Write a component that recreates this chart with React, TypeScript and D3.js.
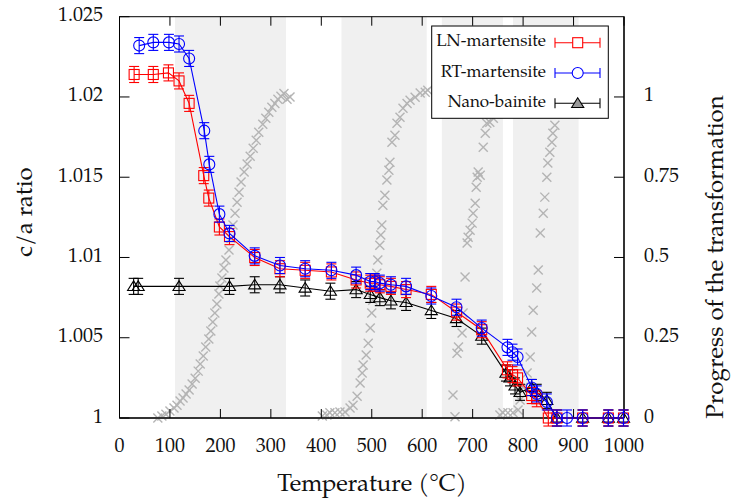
import React from "react";
import * as d3 from "d3";

// ---------- data ----------
const lnTemp = [29, 67, 97, 118, 138, 167, 177, 198, 218, 268, 318, 368, 420, 469, 497, 506, 516, 538, 568, 618, 668, 718, 769, 779, 789, 817, 827, 850, 867, 918, 969, 999];
const lnRatio = [1.0214, 1.0214, 1.0215, 1.021, 1.0196, 1.0151, 1.0137, 1.0119, 1.0113, 1.01, 1.0093, 1.0092, 1.0091, 1.0086, 1.0084, 1.0084, 1.0083, 1.0082, 1.008, 1.0077, 1.0066, 1.0055, 1.003, 1.0027, 1.0025, 1.0014, 1.0012, 1.0, 1.0, 1.0, 1.0, 1.0];

const rtTemp = [39, 67, 98, 118, 138, 168, 178, 198, 218, 268, 318, 368, 420, 469, 497, 506, 516, 538, 568, 618, 668, 718, 769, 779, 789, 817, 827, 847, 867, 887, 918, 969, 999];
const rtRatio = [1.0232, 1.0234, 1.0234, 1.0233, 1.0224, 1.0179, 1.0158, 1.0127, 1.0115, 1.0101, 1.0095, 1.0093, 1.0092, 1.0089, 1.0085, 1.0085, 1.0084, 1.0083, 1.0082, 1.0076, 1.0069, 1.0056, 1.0044, 1.0041, 1.0038, 1.0019, 1.0015, 1.001, 1.0, 1.0, 1.0, 1.0, 1.0];

const nbTemp = [28, 37, 118, 218, 268, 318, 368, 418, 469, 497, 516, 538, 568, 618, 668, 718, 766, 774, 784, 794, 817, 827, 847, 867, 918, 969, 999];
const nbRatio = [1.0082, 1.0082, 1.0082, 1.0082, 1.0083, 1.0083, 1.0081, 1.0079, 1.008, 1.0077, 1.0075, 1.0073, 1.0072, 1.0067, 1.0062, 1.0051, 1.0028, 1.0025, 1.002, 1.0016, 1.0019, 1.0016, 1.0011, 1.0, 1.0, 1.0, 1.0];

const ratioError = 0.0005;

// progress of the transformation (grey crosses, right axis)
const progTemp = [
  76, 84, 92, 100, 108, 114, 120, 126, 132, 138, 144, 150, 156, 160, 166, 171, 177, 181, 185, 189, 193, 197, 199, 203, 207, 211, 217, 221, 225, 229, 233, 237, 241, 247, 253, 259, 265, 271, 276, 284, 290, 296, 302, 308, 314, 320, 326, 332, 338,
  402, 411, 417, 427, 437, 447, 457, 463, 471, 477, 481, 483, 489, 493, 497, 500, 502, 506, 510, 512, 516, 518, 520, 522, 526, 530, 534, 536, 540, 546, 550, 556, 562, 570, 576, 586, 596, 606, 611,
  665, 661, 669, 672, 679, 681, 685, 689, 691, 695, 699, 701, 705, 707, 709, 711, 715, 721, 725, 728, 734, 741,
  754, 760, 770, 780, 790, 794, 800, 808, 814, 817, 820, 827, 830, 834, 840, 843, 847, 849, 853, 857, 859, 863, 865, 867,
];
const progValue = [
  0.0, 0.006, 0.012, 0.022, 0.031, 0.04, 0.053, 0.062, 0.075, 0.087, 0.106, 0.124, 0.146, 0.168, 0.193, 0.221, 0.246, 0.271, 0.299, 0.327, 0.355, 0.386, 0.411, 0.436, 0.467, 0.492, 0.523, 0.56, 0.601, 0.638, 0.672, 0.703, 0.735, 0.766, 0.791, 0.815, 0.84, 0.865, 0.89, 0.915, 0.934, 0.952, 0.968, 0.98, 0.993, 1.002, 1.011, 0.993, 1.0,
  0.006, 0.009, 0.016, 0.016, 0.019, 0.019, 0.031, 0.04, 0.068, 0.109, 0.14, 0.165, 0.196, 0.233, 0.28, 0.327, 0.367, 0.408, 0.451, 0.492, 0.538, 0.57, 0.601, 0.663, 0.694, 0.741, 0.772, 0.797, 0.859, 0.881, 0.918, 0.937, 0.965, 0.98, 0.99, 0.999, 1.012, 1.015, 1.021,
  0.004, 0.072, 0.202, 0.221, 0.265, 0.327, 0.439, 0.545, 0.563, 0.585, 0.607, 0.638, 0.669, 0.719, 0.75, 0.766, 0.756, 0.843, 0.887, 0.918, 0.921, 0.934,
  0.009, 0.016, 0.016, 0.016, 0.025, 0.056, 0.096, 0.14, 0.19, 0.268, 0.336, 0.405, 0.461, 0.576, 0.638, 0.688, 0.75, 0.794, 0.828, 0.859, 0.887, 0.912, 0.959, 0.98,
];

const bandStart = [110, 440, 639, 780];
const bandEnd = [330, 609, 760, 910];

const xTicks = [0, 100, 200, 300, 400, 500, 600, 700, 800, 900, 1000];
const yLeftTicks = [1, 1.005, 1.01, 1.015, 1.02, 1.025];
const yLeftLabels = ["1", "1.005", "1.01", "1.015", "1.02", "1.025"];
const yRightTicks = [0, 0.25, 0.5, 0.75, 1];
const yRightLabels = ["0", "0.25", "0.5", "0.75", "1"];

const seriesNames = ["LN-martensite", "RT-martensite", "Nano-bainite"];

// ---------- layout ----------
const W = 731;
const H = 501;
const L = 119.5;
const R = 624;
const T = 16.7;
const B = 418;
const FONT = `"TeX Gyre Pagella", "Liberation Serif", serif`;

const x = d3.scaleLinear().domain([0, 1000]).range([L, R]);
const yL = d3.scaleLinear().domain([1, 1.025]).range([B, T]);
const yR = d3.scaleLinear().domain([0, 1.25]).range([B, T]);

type Pt = { t: number; v: number };
const zip = (a: number[], b: number[]): Pt[] => a.map((t, i) => ({ t, v: b[i] }));

const lnData = zip(lnTemp, lnRatio);
const rtData = zip(rtTemp, rtRatio);
const nbData = zip(nbTemp, nbRatio);
const progData = zip(progTemp, progValue);

const line = d3
  .line<Pt>()
  .x((d) => x(d.t))
  .y((d) => yL(d.v));

const triPath = (cx: number, cy: number, s: number) =>
  `M${cx},${cy - s}L${cx + s * 1.1},${cy + s * 0.75}L${cx - s * 1.1},${cy + s * 0.75}Z`;

function Marker({ kind, cx, cy, color }: { kind: string; cx: number; cy: number; color: string }) {
  if (kind === "square")
    return <rect x={cx - 5} y={cy - 5} width={10} height={10} fill="none" stroke={color} strokeWidth={1.1} />;
  if (kind === "circle") return <circle cx={cx} cy={cy} r={5.5} fill="none" stroke={color} strokeWidth={1.1} />;
  return <path d={triPath(cx, cy, 5.5)} fill="none" stroke={color} strokeWidth={1.1} />;
}

function Series({ data, color, kind }: { data: Pt[]; color: string; kind: string }) {
  return (
    <g>
      <path d={line(data) || ""} fill="none" stroke={color} strokeWidth={1.1} />
      {data.map((d, i) => {
        const cx = x(d.t);
        const y1 = yL(d.v + ratioError);
        const y2 = yL(d.v - ratioError);
        return (
          <g key={i}>
            <line x1={cx} x2={cx} y1={y1} y2={y2} stroke={color} strokeWidth={1.1} />
            <line x1={cx - 5} x2={cx + 5} y1={y1} y2={y1} stroke={color} strokeWidth={1.1} />
            <line x1={cx - 5} x2={cx + 5} y1={y2} y2={y2} stroke={color} strokeWidth={1.1} />
            <Marker kind={kind} cx={cx} cy={yL(d.v)} color={color} />
          </g>
        );
      })}
    </g>
  );
}

export default function App() {
  const legendX = 431.7;
  const legendY = 26;
  const legendRows = [
    { name: seriesNames[0], color: "#ff0000", kind: "square", fill: "none" },
    { name: seriesNames[1], color: "#0000ff", kind: "circle", fill: "none" },
    { name: seriesNames[2], color: "#000000", kind: "triangle", fill: "#999" },
  ];
  const txt = { fontFamily: FONT };
  return (
    <svg width={W} height={H} style={{ position: "absolute", left: 0, top: 0, background: "#fff" }}>
      <rect x={0} y={0} width={W} height={H} fill="#fff" />
      {/* bands */}
      {bandStart.map((s, i) => (
        <rect key={i} x={x(s)} y={T} width={x(bandEnd[i]) - x(s)} height={B - T} fill="#f0f0f0" />
      ))}
      {/* progress crosses */}
      <g stroke="#b4b4b4" strokeWidth={1.4}>
        {progData.map((d, i) => {
          const cx = x(d.t);
          const cy = yR(d.v);
          const s = 4.5;
          return (
            <g key={i}>
              <line x1={cx - s} y1={cy - s} x2={cx + s} y2={cy + s} />
              <line x1={cx - s} y1={cy + s} x2={cx + s} y2={cy - s} />
            </g>
          );
        })}
      </g>
      {/* frame */}
      <rect x={L} y={T} width={R - L} height={B - T} fill="none" stroke="#000" strokeWidth={1} />
      <line x1={L} x2={R} y1={B} y2={B} stroke="#333" strokeWidth={2} />
      <line x1={R} x2={R} y1={T} y2={B} stroke="#333" strokeWidth={2} />
      {/* x ticks */}
      {xTicks.map((t) => (
        <g key={t}>
          <line x1={x(t)} x2={x(t)} y1={B} y2={B - 9} stroke="#000" />
          <line x1={x(t)} x2={x(t)} y1={T} y2={T + 9} stroke="#000" />
          <text x={x(t)} y={447} textAnchor="middle" dominantBaseline="central" fontSize={20} fill="#111" style={txt}>
            {t}
          </text>
        </g>
      ))}
      {/* left ticks */}
      {yLeftTicks.map((t, i) => (
        <g key={t}>
          <line x1={L} x2={L + 10} y1={yL(t)} y2={yL(t)} stroke="#000" />
          <text x={103} y={yL(t)} textAnchor="end" dominantBaseline="central" fontSize={20} fill="#111" style={txt}>
            {yLeftLabels[i]}
          </text>
        </g>
      ))}
      {/* right ticks */}
      {yRightTicks.map((t, i) => (
        <g key={t}>
          <line x1={R} x2={R - 10} y1={yR(t)} y2={yR(t)} stroke="#000" />
          <text x={644} y={yR(t)} textAnchor="start" dominantBaseline="central" fontSize={20} fill="#111" style={txt}>
            {yRightLabels[i]}
          </text>
        </g>
      ))}
      {/* series */}
      <Series data={nbData} color="#000000" kind="triangle" />
      <Series data={lnData} color="#ff0000" kind="square" />
      <Series data={rtData} color="#0000ff" kind="circle" />
      {/* titles */}
      <text x={372} y={486} textAnchor="middle" dominantBaseline="central" fontSize={24} fill="#111" style={txt}>
        Temperature (°C)
      </text>
      <text
        transform={`translate(27,212) rotate(-90)`}
        textAnchor="middle"
        dominantBaseline="central"
        fontSize={24}
        fill="#111"
        style={txt}
      >
        c/a ratio
      </text>
      <text
        transform={`translate(718,257) rotate(-90)`}
        textAnchor="middle"
        dominantBaseline="central"
        fontSize={24}
        fill="#111"
        style={txt}
      >
        Progress of the transformation
      </text>
      {/* legend */}
      <rect x={legendX} y={legendY} width={176.6} height={92.3} fill="#fff" stroke="#000" strokeWidth={1} />
      {legendRows.map((r, i) => {
        const cy = 42.7 + i * 30.3;
        return (
          <g key={r.name}>
            <text x={546} y={cy} textAnchor="end" dominantBaseline="central" fontSize={17} fill="#111" style={txt}>
              {r.name}
            </text>
            <line x1={555} x2={600} y1={cy} y2={cy} stroke={r.color} strokeWidth={1.1} />
            <line x1={555} x2={555} y1={cy - 5} y2={cy + 5} stroke={r.color} strokeWidth={1.1} />
            <line x1={600} x2={600} y1={cy - 5} y2={cy + 5} stroke={r.color} strokeWidth={1.1} />
            {r.kind === "square" && (
              <rect x={572.7} y={cy - 5} width={10} height={10} fill="#fff" stroke={r.color} strokeWidth={1.1} />
            )}
            {r.kind === "circle" && <circle cx={577.7} cy={cy} r={5.5} fill="#fff" stroke={r.color} strokeWidth={1.1} />}
            {r.kind === "triangle" && (
              <path d={triPath(577.7, cy, 5.5)} fill={r.fill} stroke={r.color} strokeWidth={1.1} />
            )}
          </g>
        );
      })}
    </svg>
  );
}
